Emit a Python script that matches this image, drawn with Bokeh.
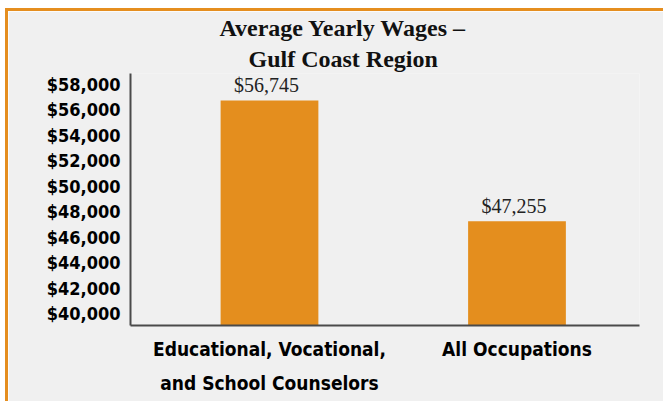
from bokeh.plotting import figure
from bokeh.models import (ColumnDataSource, Range1d, FixedTicker, NumeralTickFormatter,
                          LabelSet, Title)
from bokeh.embed import file_html
from bokeh.resources import INLINE

# ---- data ----
categories = ["Educational, Vocational,\nand School Counselors", "All Occupations"]
wages = [56745, 47255]
y_ticks = [40000, 42000, 44000, 46000, 48000, 50000, 52000, 54000, 56000, 58000]
title_lines = ["Average Yearly Wages \u2013", "Gulf Coast Region"]

ORANGE = "#E48E1E"
BG = "#F0F0F0"

xs = list(range(len(categories)))
y_start = 39060
src = ColumnDataSource(dict(
    x=xs,
    top=wages,
    bottom=[y_start] * len(wages),
    label=["${:,}".format(v) for v in wages],
))

p = figure(width=658, height=393, output_backend="svg", toolbar_location=None,
           x_range=Range1d(-0.5616, 1.495), y_range=Range1d(y_start, 58860),
           min_border_left=122, min_border_right=27, min_border_top=61,
           min_border_bottom=79,
           background_fill_color=BG, border_fill_color=BG,
           styles={"border-top": "3px solid #E58E1F",
                   "border-left": "3px solid #E58E1F",
                   "margin-left": "5px",
                   "margin-top": "8px"})

p.vbar(x="x", top="top", bottom="bottom", width=0.395, source=src,
       fill_color=ORANGE, line_color=None)

labels = LabelSet(x="x", y="top", text="label", source=src, y_offset=8, x_offset=-3,
                  text_align="center", text_baseline="alphabetic",
                  text_font="Liberation Serif", text_font_size="20px",
                  text_color="#222222")
p.add_layout(labels)

# two-line title (left of the frame centre, as in the original);
# panels stack outward from the frame, so the last line is added first
title_offsets = [89, 118]
for line, off in reversed(list(zip(title_lines, title_offsets))):
    p.add_layout(Title(text=line, align="left", offset=off, standoff=3,
                       text_font="Liberation Serif", text_font_size="24px",
                       text_font_style="bold", text_color="#111111"), "above")

p.grid.visible = False
p.outline_line_color = None

# y axis
p.yaxis.ticker = FixedTicker(ticks=y_ticks)
p.yaxis.formatter = NumeralTickFormatter(format="$0,0")
p.yaxis.major_tick_line_color = None
p.yaxis.minor_tick_line_color = None
p.yaxis.major_tick_out = 0
p.yaxis.major_label_standoff = 10
p.yaxis.major_label_text_font = "DejaVu Sans Condensed"
p.yaxis.major_label_text_font_style = "bold"
p.yaxis.major_label_text_font_size = "18px"
p.yaxis.major_label_text_color = "#000000"
p.yaxis.axis_line_color = "#4a4a4a"
p.yaxis.axis_line_width = 2

# x axis
p.xaxis.ticker = FixedTicker(ticks=xs)
p.xaxis.major_label_overrides = {i: c for i, c in zip(xs, categories)}
p.xaxis.major_tick_line_color = None
p.xaxis.minor_tick_line_color = None
p.xaxis.major_tick_out = 0
p.xaxis.major_label_standoff = 12
p.xaxis.major_label_text_font = "DejaVu Sans Condensed"
p.xaxis.major_label_text_font_style = "bold"
p.xaxis.major_label_text_font_size = "19px"
p.xaxis.major_label_text_color = "#000000"
p.xaxis.major_label_text_line_height = 1.55
p.xaxis.axis_line_color = "#4a4a4a"
p.xaxis.axis_line_width = 2

open("out.html", "w").write(file_html(p, INLINE))
